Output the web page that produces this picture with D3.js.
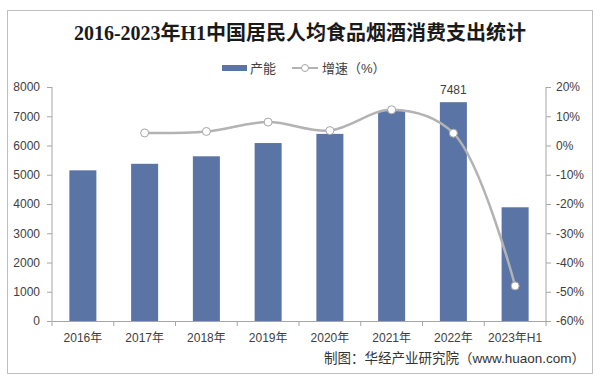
<!DOCTYPE html>
<html><head><meta charset="utf-8">
<script src="https://cdn.jsdelivr.net/npm/d3@7"></script>
<style>
html,body{margin:0;padding:0;background:#fff;}
svg{display:block;}
</style></head>
<body>
<svg id="c" width="600" height="380"></svg>
<script>
const categories = ["2016年","2017年","2018年","2019年","2020年","2021年","2022年","2023年H1"];
const spending = [5151, 5374, 5631, 6084, 6397, 7178, 7481, 3888];
const growth = [null, 4.3, 4.8, 8.0, 5.1, 12.2, 4.2, -48.0];
const leftTicks = [0,1000,2000,3000,4000,5000,6000,7000,8000];
const rightTicks = [20,10,0,-10,-20,-30,-40,-50,-60];
const labeledIndex = 6;

const svg = d3.select("#c");
const L = 52, R = 546, T = 87, B = 321;
const font = "'Liberation Sans', Arial, 'Noto Sans CJK SC', sans-serif";
const axisColor = "#a6a6a6";
const textColor = "#404040";

// frame
svg.append("rect").attr("x",7.5).attr("y",10.5).attr("width",585).attr("height",363)
  .attr("fill","#fff").attr("stroke","#bfbfbf").attr("stroke-width",1);

// title
svg.append("text").attr("x",300).attr("y",40).attr("text-anchor","middle")
  .attr("font-family","'Liberation Serif','DejaVu Serif','Noto Sans CJK SC',serif")
  .attr("font-weight","bold").attr("font-size",20).attr("fill","#1a1a1a")
  .text("2016-2023年H1中国居民人均食品烟酒消费支出统计");

const xOuter = d3.scaleBand().domain(categories).range([L,R]);
const yL = d3.scaleLinear().domain([0,8000]).range([B,T]);
const yR = d3.scaleLinear().domain([-60,20]).range([B,T]);
const cx = c => xOuter(c) + xOuter.bandwidth()/2;

// bars
svg.append("g").selectAll("rect").data(spending).join("rect")
  .attr("x",(d,i)=>cx(categories[i]) - 13.5)
  .attr("width",27)
  .attr("y",d=>yL(d)).attr("height",d=>B-yL(d))
  .attr("fill","#5b74a6");

// data label
svg.append("text").attr("x",cx(categories[labeledIndex]))
  .attr("y",yL(spending[labeledIndex])-8).attr("text-anchor","middle")
  .attr("font-family",font).attr("font-size",12).attr("fill",textColor)
  .text(spending[labeledIndex]);

// axes
const gl = svg.append("g").attr("transform",`translate(${L},0)`)
  .call(d3.axisLeft(yL).tickValues(leftTicks).tickSize(5).tickPadding(7).tickFormat(d3.format("d")));
const gr = svg.append("g").attr("transform",`translate(${R},0)`)
  .call(d3.axisRight(yR).tickValues(rightTicks).tickSize(5).tickPadding(5).tickFormat(d=>d+"%"));
const gb = svg.append("g").attr("transform",`translate(0,${B})`)
  .call(d3.axisBottom(xOuter).tickSize(0).tickPadding(12));
const bounds = categories.map(c=>xOuter(c)).concat([R]);
svg.append("g").selectAll("line").data(bounds).join("line")
  .attr("x1",d=>d).attr("x2",d=>d).attr("y1",B).attr("y2",B+5)
  .attr("stroke",axisColor);

[gl,gr,gb].forEach(g=>{
  g.selectAll("path.domain").attr("stroke",axisColor);
  g.selectAll(".tick line").attr("stroke",axisColor);
  g.selectAll("text").attr("font-family",font).attr("font-size",12).attr("fill",textColor);
});
gl.select("path.domain").attr("d",`M0,${B}V${T}`);
gr.select("path.domain").attr("d",`M0,${B}V${T}`);

// growth line
const pts = growth.map((g,i)=>({g,i})).filter(d=>d.g!==null);
const line = d3.line().x(d=>cx(categories[d.i])).y(d=>yR(d.g))
  .curve(d3.curveCatmullRom.alpha(0.5));
svg.append("path").datum(pts).attr("d",line).attr("fill","none")
  .attr("stroke","#b3b3b3").attr("stroke-width",2.5);
svg.append("g").selectAll("circle").data(pts).join("circle")
  .attr("cx",d=>cx(categories[d.i])).attr("cy",d=>yR(d.g))
  .attr("r",4).attr("fill","#fff").attr("stroke","#a6a6a6").attr("stroke-width",1);

// legend
const lg = svg.append("g");
lg.append("rect").attr("x",222).attr("y",65).attr("width",25).attr("height",6).attr("fill","#5b74a6");
lg.append("text").attr("x",250).attr("y",73).attr("font-family",font).attr("font-size",13)
  .attr("fill",textColor).text("产能");
lg.append("line").attr("x1",292).attr("x2",318).attr("y1",68).attr("y2",68)
  .attr("stroke","#b3b3b3").attr("stroke-width",2);
lg.append("circle").attr("cx",305).attr("cy",68).attr("r",3.5).attr("fill","#fff")
  .attr("stroke","#a6a6a6");
lg.append("text").attr("x",322).attr("y",73).attr("font-family",font).attr("font-size",13)
  .attr("fill",textColor).text("增速（%）");

// source
svg.append("text").attr("x",585).attr("y",363).attr("text-anchor","end")
  .attr("font-family",font).attr("font-size",13.5).attr("fill","#333")
  .text("制图：华经产业研究院（www.huaon.com）");
</script>
</body></html>
